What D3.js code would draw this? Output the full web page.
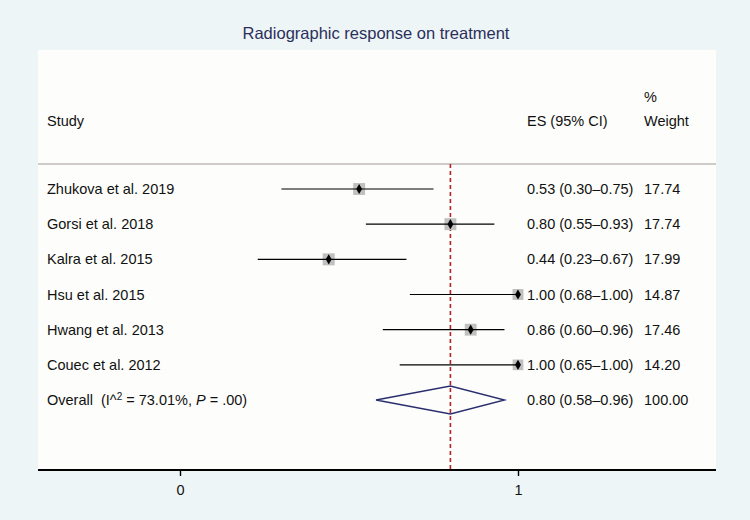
<!DOCTYPE html>
<html>
<head>
<meta charset="utf-8">
<script src="https://d3js.org/d3.v7.min.js"></script>
<style>
  body { margin: 0; background: #eef5f6; }
  text { font-family: "Liberation Sans", Arial, sans-serif; }
</style>
</head>
<body>
<div id="forest"></div>
<script>
// study data
var studies = ["Zhukova et al. 2019", "Gorsi et al. 2018", "Kalra et al. 2015",
               "Hsu et al. 2015", "Hwang et al. 2013", "Couec et al. 2012"];
var es    = [0.53, 0.80, 0.44, 1.00, 0.86, 1.00];
var lower = [0.30, 0.55, 0.23, 0.68, 0.60, 0.65];
var upper = [0.75, 0.93, 0.67, 1.00, 0.96, 1.00];
var weight = [17.74, 17.74, 17.99, 14.87, 17.46, 14.20];

// pooled estimate
var overallLabel = "Overall";
var overall = {es: 0.80, lo: 0.58, hi: 0.96, w: 100.00};
var xTicks = [0, 1];

var width = 750, height = 520;
var panel = {left: 38, right: 716, top: 50, bottom: 470};
var fs = 14.5;

var svg = d3.select("#forest").append("svg")
    .attr("width", width)
    .attr("height", height);

svg.append("rect")
    .attr("width", width).attr("height", height)
    .attr("fill", "#eef5f6");

svg.append("rect")
    .attr("x", panel.left).attr("y", panel.top)
    .attr("width", panel.right - panel.left)
    .attr("height", panel.bottom - panel.top)
    .attr("fill", "#fdfefb");

svg.append("text")
    .attr("x", 376).attr("y", 39)
    .attr("text-anchor", "middle")
    .attr("font-size", 16.5)
    .attr("fill", "#2b2f5c")
    .text("Radiographic response on treatment");

// x scale: 0 -> 180px, 1 -> 518px
var x = d3.scaleLinear().domain([0, 1]).range([180, 518]);

// row positions
var rows = studies.concat([overallLabel]);
var y = d3.scalePoint().domain(rows).range([189, 400]);

// header
var header = svg.append("g").attr("font-size", fs).attr("fill", "#111");
header.append("text").attr("x", 47).attr("y", 126).text("Study");
header.append("text").attr("x", 527).attr("y", 126).text("ES (95% CI)");
header.append("text").attr("x", 644).attr("y", 102).text("%");
header.append("text").attr("x", 644).attr("y", 126).text("Weight");

svg.append("line")
    .attr("x1", panel.left).attr("x2", panel.right)
    .attr("y1", 164).attr("y2", 164)
    .attr("stroke", "#cfcbc8").attr("stroke-width", 2);

var data = studies.map(function (s, i) {
    return {name: s, es: es[i], lo: lower[i], hi: upper[i], w: weight[i]};
});

var fmt = d3.format(".2f");
function ciText(d) {
    return fmt(d.es) + " (" + fmt(d.lo) + "\u2013" + fmt(d.hi) + ")";
}

// null / pooled line
svg.append("line")
    .attr("x1", x(overall.es)).attr("x2", x(overall.es))
    .attr("y1", 164).attr("y2", panel.bottom)
    .attr("stroke", "#b2222a").attr("stroke-width", 1.6)
    .attr("stroke-dasharray", "4,3");

// weight squares
var side = d3.scaleSqrt().domain([0, 17.99]).range([0, 12]);
svg.selectAll(".box").data(data).enter().append("rect")
    .attr("x", function (d) { return x(d.es) - side(d.w) / 2; })
    .attr("y", function (d) { return y(d.name) - side(d.w) / 2; })
    .attr("width", function (d) { return side(d.w); })
    .attr("height", function (d) { return side(d.w); })
    .attr("fill", "#c0c0c0");

// CI lines
svg.selectAll(".ci").data(data).enter().append("line")
    .attr("x1", function (d) { return x(d.lo); })
    .attr("x2", function (d) { return x(d.hi); })
    .attr("y1", function (d) { return y(d.name); })
    .attr("y2", function (d) { return y(d.name); })
    .attr("stroke", "#000").attr("stroke-width", 1.2);

// point estimate markers
svg.selectAll(".pt").data(data).enter().append("path")
    .attr("d", d3.symbol(d3.symbolDiamond, 30))
    .attr("transform", function (d) {
        return "translate(" + x(d.es) + "," + y(d.name) + ")";
    })
    .attr("fill", "#000");

// study labels and values
var lab = svg.append("g").attr("font-size", fs).attr("fill", "#111");
lab.selectAll(".name").data(data).enter().append("text")
    .attr("x", 47).attr("y", function (d) { return y(d.name) + 5; })
    .text(function (d) { return d.name; });
lab.selectAll(".es").data(data).enter().append("text")
    .attr("x", 527).attr("y", function (d) { return y(d.name) + 5; })
    .text(ciText);
lab.selectAll(".w").data(data).enter().append("text")
    .attr("x", 644).attr("y", function (d) { return y(d.name) + 5; })
    .text(function (d) { return fmt(d.w); });

// overall diamond
var oy = y(overallLabel);
svg.append("path")
    .attr("d", "M" + x(overall.lo) + "," + oy +
               "L" + x(overall.es) + "," + (oy - 14) +
               "L" + x(overall.hi) + "," + oy +
               "L" + x(overall.es) + "," + (oy + 14) + "Z")
    .attr("fill", "none").attr("stroke", "#2a2e6e").attr("stroke-width", 1.4);

var ot = lab.append("text").attr("x", 47).attr("y", oy + 5).attr("xml:space", "preserve");
ot.append("tspan").text("Overall  (I^");
ot.append("tspan").attr("font-size", 10).attr("dy", -5).text("2");
ot.append("tspan").attr("dy", 5).text(" = 73.01%, ");
ot.append("tspan").attr("font-style", "italic").text("P");
ot.append("tspan").text(" = .00)");
lab.append("text").attr("x", 527).attr("y", oy + 5).text(ciText(overall));
lab.append("text").attr("x", 644).attr("y", oy + 5).text(fmt(overall.w));

// x axis
var axis = svg.append("g")
    .attr("transform", "translate(0," + panel.bottom + ")");
axis.append("line")
    .attr("x1", panel.left).attr("x2", panel.right)
    .attr("stroke", "#000").attr("stroke-width", 2);
axis.call(d3.axisBottom(x).tickValues(xTicks).tickFormat(d3.format("d")).tickSize(6));
axis.select(".domain").remove();
axis.selectAll(".tick line").attr("stroke-width", 1.4);
axis.selectAll(".tick text")
    .attr("font-size", fs).attr("fill", "#111")
    .attr("font-family", "Liberation Sans, Arial, sans-serif")
    .attr("dy", "1.1em");
</script>
</body>
</html>
